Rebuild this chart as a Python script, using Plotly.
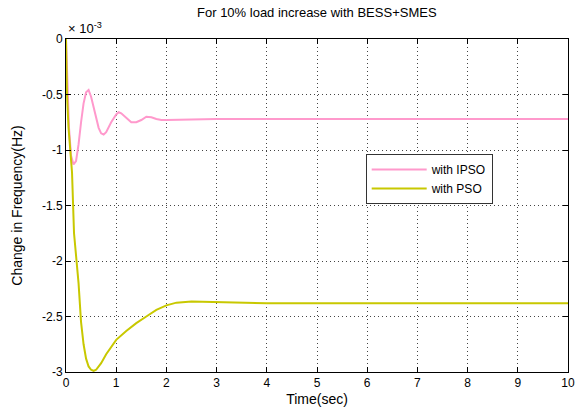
import plotly.graph_objects as go

t_ipso = [0, 0.03, 0.06, 0.1, 0.15, 0.2, 0.25, 0.3, 0.35, 0.4, 0.45, 0.5, 0.55, 0.6, 0.65, 0.7, 0.75,
          0.8, 0.9, 1.0, 1.05, 1.1, 1.2, 1.3, 1.4, 1.5, 1.6, 1.7, 1.8, 1.9, 2.0, 2.5, 3, 4, 5, 6, 7, 8, 9, 10]
f_ipso = [0, -0.45, -0.8, -1.05, -1.13, -1.1, -0.95, -0.75, -0.58, -0.48, -0.46, -0.52, -0.62, -0.72,
          -0.8, -0.85, -0.86, -0.84, -0.75, -0.68, -0.66, -0.67, -0.71, -0.75, -0.75, -0.73, -0.70,
          -0.705, -0.72, -0.73, -0.73, -0.725, -0.72, -0.72, -0.72, -0.72, -0.72, -0.72, -0.72, -0.72]

t_pso = [0, 0.005, 0.02, 0.05, 0.08, 0.12, 0.16, 0.2, 0.25, 0.3, 0.35, 0.4, 0.45, 0.5, 0.55, 0.6, 0.7,
         0.8, 0.9, 1.0, 1.2, 1.4, 1.6, 1.8, 2.0, 2.2, 2.5, 3, 3.5, 4, 5, 6, 7, 8, 9, 10]
f_pso = [0, -0.25, -0.5, -0.8, -1.0, -1.2, -1.75, -1.95, -2.2, -2.55, -2.75, -2.88, -2.95, -2.98,
         -2.99, -2.98, -2.92, -2.84, -2.77, -2.71, -2.63, -2.56, -2.50, -2.44, -2.40, -2.375, -2.365,
         -2.37, -2.375, -2.38, -2.38, -2.38, -2.38, -2.38, -2.38, -2.38]

x_ticks = [0, 1, 2, 3, 4, 5, 6, 7, 8, 9, 10]
y_ticks = [0, -0.5, -1, -1.5, -2, -2.5, -3]
y_labels = ["0", "-0.5", "-1", "-1.5", "-2", "-2.5", "-3"]

font = dict(family="Liberation Sans, Arial, sans-serif", size=12, color="black")

fig = go.Figure()
fig.add_trace(go.Scatter(x=t_ipso, y=f_ipso, mode="lines", name="with IPSO",
                         line=dict(color="#FF99CC", width=2)))
fig.add_trace(go.Scatter(x=t_pso, y=f_pso, mode="lines", name="with PSO",
                         line=dict(color="#C8C800", width=2)))

axis_common = dict(showline=True, linecolor="black", linewidth=1, mirror="ticks",
                   ticks="inside", ticklen=5, tickcolor="black",
                   showgrid=True, gridcolor="#444444", griddash="1px,3px", gridwidth=1,
                   zeroline=False, tickfont=font, automargin=False)

fig.update_layout(
    width=576, height=412,
    margin=dict(l=66, r=8, t=39, b=40),
    paper_bgcolor="white", plot_bgcolor="white",
    font=font,
    title=dict(text="For 10% load increase with BESS+SMES", x=0.55, xanchor="center",
               y=0.97, yanchor="middle", font=dict(size=13)),
    xaxis=dict(range=[0, 10], tickvals=x_ticks, title=dict(text="Time(sec)", standoff=4), **axis_common),
    yaxis=dict(range=[-3, 0], tickvals=y_ticks, ticktext=y_labels,
               title=dict(text="Change in Frequency(Hz)", standoff=16), **axis_common),
    legend=dict(x=0.597, y=0.655, xanchor="left", yanchor="top", bgcolor="white",
                bordercolor="#333333", borderwidth=1, font=dict(size=12), itemwidth=55),
    showlegend=True,
)
fig.add_annotation(text="\u00d7 10<sup>-3</sup>", xref="paper", yref="paper", x=0, y=1.0,
                   xanchor="left", yanchor="bottom", showarrow=False, font=dict(size=13), yshift=1)

fig.write_html("out.html")
